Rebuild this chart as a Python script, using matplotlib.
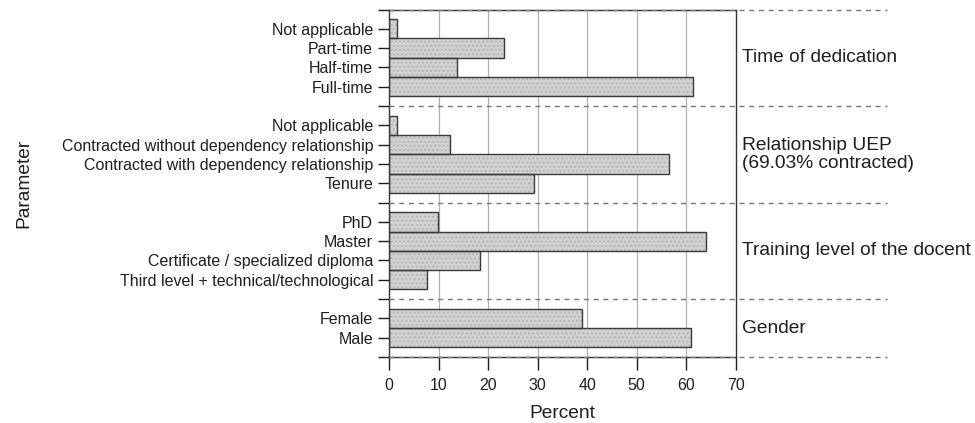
import numpy as np
import matplotlib.pyplot as plt

plt.rcParams['font.family'] = ['Liberation Sans', 'DejaVu Sans']

# bottom to top, same order as drawn
labels = ['Male', 'Female',
          'Third level + technical/technological', 'Certificate / specialized diploma',
          'Master', 'PhD',
          'Tenure', 'Contracted with dependency relationship',
          'Contracted without dependency relationship', 'Not applicable',
          'Full-time', 'Half-time', 'Part-time', 'Not applicable']
values = [61.0, 39.0,
          7.7, 18.3, 64.1, 9.9,
          29.3, 56.6, 12.4, 1.7,
          61.4, 13.7, 23.2, 1.7]
groups = ['Gender', 'Training level of the docent',
          'Relationship UEP\n(69.03% contracted)', 'Time of dedication']
group_sizes = [2, 4, 4, 4]

# y positions: one unit per bar, half unit padding around each group
ypos = []
seps = [0]
start = 0
for n in group_sizes:
    ypos += [start + 1 + i for i in range(n)]
    start += n + 1
    seps.append(start)
ypos = np.array(ypos)

fig = plt.figure(figsize=(9.75, 4.23), dpi=100)
ax = fig.add_axes([0.399, 0.156, 0.3555, 0.8215])

ax.barh(ypos, values, height=1.0, color='#d2d2d2', edgecolor='#b4b4b4',
        linewidth=0, hatch='....', zorder=2)
ax.barh(ypos, values, height=1.0, fill=False, edgecolor='#3a3a3a',
        linewidth=1.0, zorder=3)

ax.set_xlim(0, 70)
ax.set_ylim(0, seps[-1])
ax.set_xticks(range(0, 71, 10))
for gx in range(10, 61, 10):
    ax.axvline(gx, color='#b0b0b0', linewidth=0.9, zorder=1)

# separators running past the right edge
for s in seps:
    ax.plot([0, 100.6], [s, s], color='#777777', linestyle=(0, (3.6, 3.4)),
            linewidth=1.0, clip_on=False, zorder=4)

all_ticks = sorted(list(ypos) + seps)
ax.set_yticks(all_ticks)
ax.set_yticklabels([labels[list(ypos).index(t)] if t in ypos else '' for t in all_ticks])
ax.tick_params(axis='both', direction='out', length=8, width=1.0,
               labelsize=11.5, colors='#1e1e1e')
ax.tick_params(axis='x', length=9, pad=6)

for side in ['left', 'right', 'bottom', 'top']:
    ax.spines[side].set_color('#333333')
    ax.spines[side].set_linewidth(1.0)

start = 0
for g, n in zip(groups, group_sizes):
    ax.text(71.3, start + (n + 1) / 2, g, ha='left', va='center',
            fontsize=13.8, color='#1e1e1e', linespacing=1.05)
    start += n + 1

ax.set_xlabel('Percent', fontsize=13.8, color='#1e1e1e', labelpad=9)
fig.text(0.024, 0.567, 'Parameter', rotation=90, ha='center', va='center',
         fontsize=13.8, color='#1e1e1e')

fig.savefig('out.png', dpi=100)
